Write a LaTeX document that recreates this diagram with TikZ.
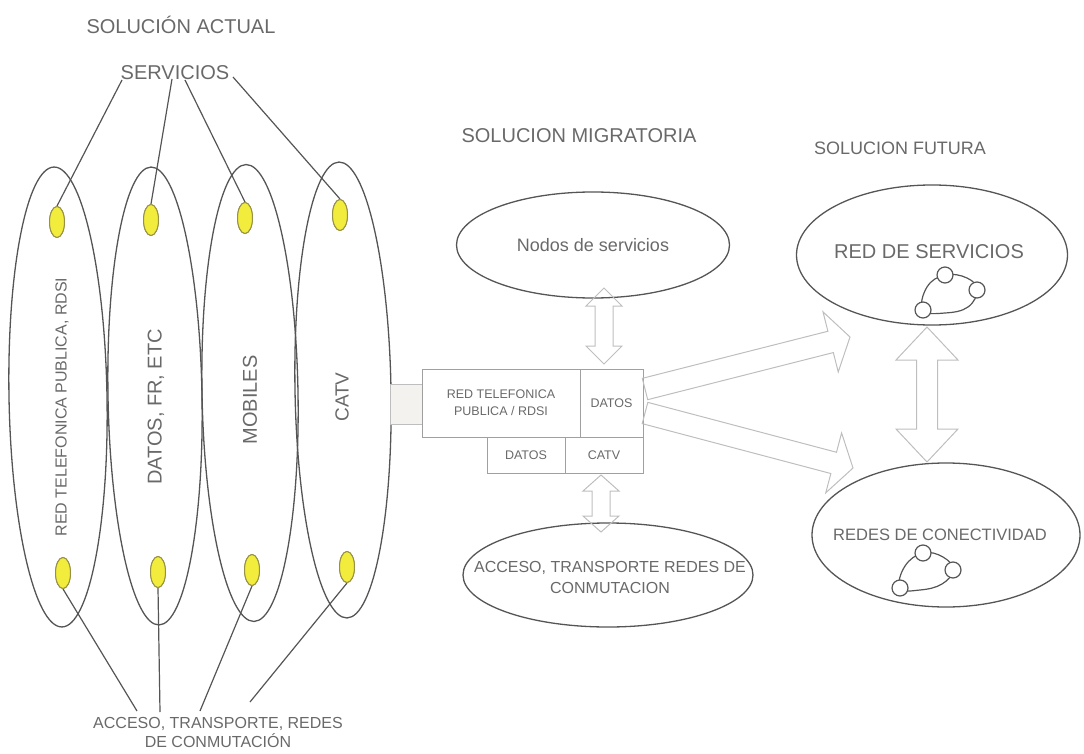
\documentclass[tikz,border=0pt]{standalone}
\usepackage{fontspec}
\setmainfont{Liberation Sans}
\usetikzlibrary{shapes.geometric,calc}
\definecolor{txt}{RGB}{105,105,105}
\definecolor{ln}{RGB}{85,85,85}
\definecolor{lite}{RGB}{190,190,190}
\definecolor{boxl}{RGB}{160,160,160}
\definecolor{yel}{RGB}{242,236,60}
\definecolor{yeld}{RGB}{150,145,70}
\definecolor{pale}{RGB}{244,242,238}

\newcommand{\sarrow}[5]{%
  \coordinate (h) at ($(#2)!#5!(#1)$);
  \draw[blk] ($(#1)!#3!90:(#2)$) -- ($(h)!#3!-90:(#1)$) -- ($(h)!#4!-90:(#1)$) -- (#2)
    -- ($(h)!#4!90:(#1)$) -- ($(h)!#3!90:(#1)$) -- ($(#1)!#3!-90:(#2)$) -- cycle;}
\newcommand{\darrow}[5]{%
  \coordinate (ha) at ($(#1)!#5!(#2)$);
  \coordinate (hb) at ($(#2)!#5!(#1)$);
  \draw[blk] (#1) -- ($(ha)!#4!90:(#2)$) -- ($(ha)!#3!90:(#2)$) -- ($(hb)!#3!-90:(#1)$)
    -- ($(hb)!#4!-90:(#1)$) -- (#2) -- ($(hb)!#4!90:(#1)$) -- ($(hb)!#3!90:(#1)$)
    -- ($(ha)!#3!-90:(#2)$) -- ($(ha)!#4!-90:(#2)$) -- cycle;}

\begin{document}
\begin{tikzpicture}[x=1pt,y=-1pt,
  lbl/.style={text=txt, inner sep=0pt, font=\fontsize{20}{23}\selectfont},
  big/.style={draw=ln, line width=1.3pt, ellipse, inner sep=0pt},
  yelo/.style={draw=yeld, fill=yel, line width=1pt, ellipse, minimum width=15pt, minimum height=31pt, inner sep=0pt},
  wire/.style={draw=ln, line width=1.2pt},
  cellbox/.style={draw=boxl, line width=0.8pt, rectangle, inner sep=0pt, text=txt, align=center, font=\fontsize{12.5}{17}\selectfont},
  blk/.style={draw=lite, line width=1pt, line join=miter},
  ringnode/.style={draw=ln, fill=white, line width=1.2pt, circle, minimum size=16pt, inner sep=0pt}
]
\useasboundingbox (0,0) rectangle (1084,754);

% ---------- SOLUCION ACTUAL ----------
\node[lbl] (sa) at (181,25) {SOLUCIÓN ACTUAL};
\node[lbl] (serv) at (175,73) {SERVICIOS};

\node[big, minimum width=98pt, minimum height=460pt, rotate=1] (e1) at (58,397) {};
\node[big, minimum width=94pt, minimum height=458pt, rotate=1] (e2) at (155,396) {};
\node[big, minimum width=96pt, minimum height=457pt, rotate=1] (e3) at (250,393) {};
\node[big, minimum width=96pt, minimum height=456pt, rotate=1] (e4) at (343,390) {};

\node[lbl, rotate=90, font=\fontsize{16}{18}\selectfont] (t1) at (62,407) {RED TELEFONICA PUBLICA, RDSI};
\node[lbl, rotate=90] (t2) at (156,407) {DATOS, FR, ETC};
\node[lbl, rotate=90] (t3) at (250,400) {MOBILES};
\node[lbl, rotate=90, font=\fontsize{19}{21}\selectfont] (t4) at (342,397) {CATV};

\node[lbl, align=center, font=\fontsize{16}{19}\selectfont] (acc) at (218,732) {ACCESO, TRANSPORTE, REDES\\DE CONMUTACIÓN};

\coordinate (s1) at (122,80);
\coordinate (s2) at (172,79);
\coordinate (s3) at (185,80);
\coordinate (s4) at (233,77);
\coordinate (a1) at (137,711);
\coordinate (a2) at (160,712);
\coordinate (a3) at (200,711);
\coordinate (a4) at (250,702);

\node[yelo] (y1t) at (57,222) {};
\node[yelo] (y2t) at (151,220) {};
\node[yelo] (y3t) at (245,218) {};
\node[yelo] (y4t) at (340,215) {};
\node[yelo] (y1b) at (63,573) {};
\node[yelo] (y2b) at (158,572) {};
\node[yelo] (y3b) at (252,570) {};
\node[yelo] (y4b) at (347,567) {};

\draw[wire] (s1) -- (y1t.north);
\draw[wire] (s2) -- (y2t.north);
\draw[wire] (s3) -- (y3t.north);
\draw[wire] (s4) -- (y4t.north);
\draw[wire] (y1b.south) -- (a1);
\draw[wire] (y2b.south) -- (a2);
\draw[wire] (y3b.south) -- (a3);
\draw[wire] (y4b.south) -- (a4);
% redraw yellow on top
\node[yelo] at (y1t) {};
\node[yelo] at (y2t) {};
\node[yelo] at (y3t) {};
\node[yelo] at (y4t) {};
\node[yelo] at (y1b) {};
\node[yelo] at (y2b) {};
\node[yelo] at (y3b) {};
\node[yelo] at (y4b) {};

% ---------- SOLUCION MIGRATORIA ----------
\node[lbl] (sm) at (579,136) {SOLUCION MIGRATORIA};
\node[big, minimum width=273pt, minimum height=106pt, text=txt, font=\fontsize{18}{20}\selectfont] (nodos) at (593,245) {Nodos de servicios};

\node[rectangle, draw=lite, fill=pale, line width=0.8pt, minimum width=32pt, minimum height=40pt, inner sep=0pt] (stub) at (406,404) {};
\node[cellbox, minimum width=158pt, minimum height=68pt] (rt) at (501,403) {RED TELEFONICA\\PUBLICA / RDSI};
\node[cellbox, minimum width=63pt, minimum height=68pt] (d1) at (611.5,403) {DATOS};
\node[cellbox, minimum width=78pt, minimum height=36pt] (d2) at (526,455) {DATOS};
\node[cellbox, minimum width=78pt, minimum height=36pt] (cv) at (604,455) {CATV};

\node[big, minimum width=290pt, minimum height=104pt] (accm) at (608,575) {};
\node[lbl, align=center, font=\fontsize{16}{21}\selectfont] (accmt) at (610,577) {ACCESO, TRANSPORTE REDES DE\\CONMUTACION};

\coordinate (p1) at (604,288);
\coordinate (p2) at (604,364);
\coordinate (q1) at (601,475);
\coordinate (q2) at (601,532);
\darrow{p1}{p2}{9pt}{18pt}{18pt}
\darrow{q1}{q2}{9pt}{18pt}{16pt}

% ---------- SOLUCION FUTURA ----------
\node[lbl, font=\fontsize{18}{20}\selectfont] (sf) at (900,148) {SOLUCION FUTURA};
\node[big, minimum width=271pt, minimum height=140pt] (rs) at (932,255) {};
\node[lbl] (rst) at (929,252) {RED DE SERVICIOS};
\node[big, minimum width=268pt, minimum height=144pt] (rc) at (946,535) {};
\node[lbl, font=\fontsize{16.5}{18}\selectfont] (rct) at (940,535) {REDES DE CONECTIVIDAD};

\coordinate (u1) at (645,389);
\coordinate (u2) at (850,337);
\coordinate (l1) at (645,413);
\coordinate (l2) at (853,468);
\sarrow{u1}{u2}{11pt}{31pt}{20pt}
\sarrow{l1}{l2}{11pt}{31pt}{20pt}

\coordinate (r1) at (927,327);
\coordinate (r2) at (927,462);
\darrow{r1}{r2}{10.5pt}{31pt}{33pt}

% rings
\draw[ln, line width=1.2pt] plot[smooth cycle, tension=0.7] coordinates {(923,310) (927,287) (945,275) (967,278) (977,290) (968,307) (945,313)};
\node[ringnode] (rg1) at (923,310) {};
\node[ringnode] (rg2) at (945,275) {};
\node[ringnode] (rg3) at (977,290) {};

\draw[ln, line width=1.2pt] plot[smooth cycle, tension=0.7] coordinates {(900,588) (905,566) (923,553) (943,557) (953,570) (942,584) (920,590)};
\node[ringnode] (rh1) at (900,588) {};
\node[ringnode] (rh2) at (923,553) {};
\node[ringnode] (rh3) at (953,570) {};
\end{tikzpicture}
\end{document}
